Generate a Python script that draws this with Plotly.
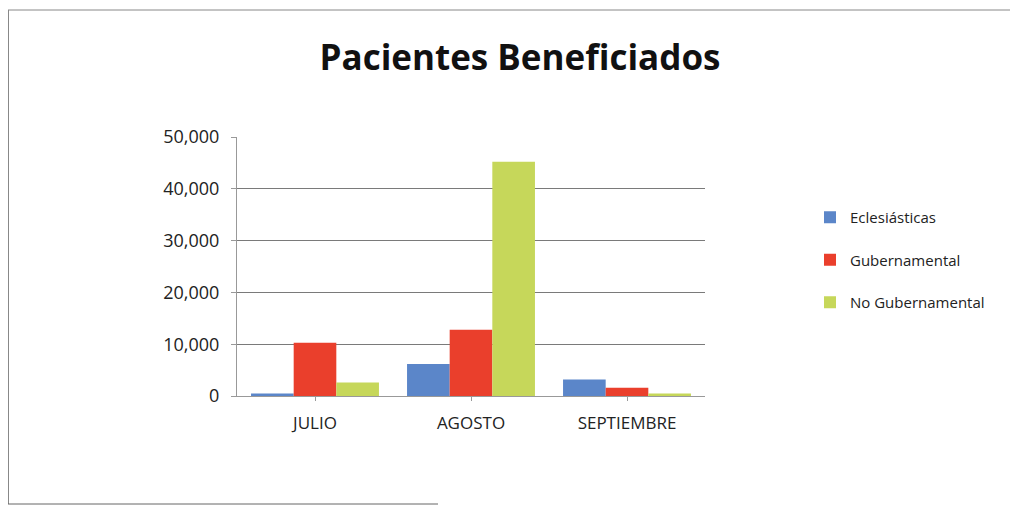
import plotly.graph_objects as go

meses = ["JULIO", "AGOSTO", "SEPTIEMBRE"]
eclesiasticas = [500, 6200, 3200]
gubernamental = [10300, 12800, 1600]
no_gubernamental = [2600, 45200, 500]
series_names = ["Eclesiásticas", "Gubernamental", "No Gubernamental"]
colores = ["#5b86c9", "#ea3f2c", "#c6d75a"]
y_ticks = [0, 10000, 20000, 30000, 40000, 50000]
y_labels = ["0", "10,000", "20,000", "30,000", "40,000", "50,000"]

W, H = 1010, 499
L, T, R, B = 229, 129, 313, 111
pw, ph = W - L - R, H - T - B

fig = go.Figure()
for name, vals, col in zip(series_names, [eclesiasticas, gubernamental, no_gubernamental], colores):
    fig.add_trace(go.Bar(x=meses, y=vals, name=name, legendgroup=name,
                         marker=dict(color=col, line=dict(width=0))))

# frame (top, left, bottom) in paper coordinates
fx0, fx1 = -L / pw, (W - L) / pw
fy0, fy1 = -(B - 3) / ph, (H - B - 2) / ph
frame = [
    dict(type="line", xref="paper", yref="paper", x0=fx0, x1=fx1, y0=fy1, y1=fy1,
         line=dict(color="#888", width=1)),
    dict(type="line", xref="paper", yref="paper", x0=fx0 + 0.5 / pw, x1=fx0 + 0.5 / pw, y0=fy0, y1=fy1,
         line=dict(color="#888", width=1)),
    dict(type="line", xref="paper", yref="paper", x0=fx0, x1=(430 - L) / pw, y0=fy0, y1=fy0,
         line=dict(color="#666", width=1)),
]

fig.update_layout(
    width=W, height=H,
    paper_bgcolor="white", plot_bgcolor="white",
    margin=dict(l=L, r=R, t=T, b=B),
    barmode="group", bargap=0.18, bargroupgap=0.0,
    title=dict(text="<b>Pacientes Beneficiados</b>", x=(512 - L) / pw, xanchor="center", xref="paper",
               y=1 - 50 / H, yanchor="middle",
               font=dict(family="Open Sans", size=35, color="#111")),
    font=dict(family="Open Sans", color="#222"),
    legend=dict(x=(802 - L) / pw, xanchor="left", y=(388 - 252) / ph,
                yanchor="middle", font=dict(size=15, color="#222"),
                tracegroupgap=20, itemwidth=30, bgcolor="rgba(0,0,0,0)"),
    xaxis=dict(showline=True, linecolor="#999", linewidth=1, ticks="outside", ticklen=4,
               tickcolor="#999", tickfont=dict(size=17, color="#222"), ticklabelstandoff=8),
    yaxis=dict(range=[0, 50000], tickvals=y_ticks, ticktext=y_labels, showgrid=True,
               gridcolor="#7a7a7a", gridwidth=1, showline=True, linecolor="#999",
               ticks="outside", ticklen=5, tickcolor="#999", tickfont=dict(size=18, color="#222"),
               ticklabelstandoff=8, zeroline=False),
    shapes=frame,
)
fig.write_html("out.html")
